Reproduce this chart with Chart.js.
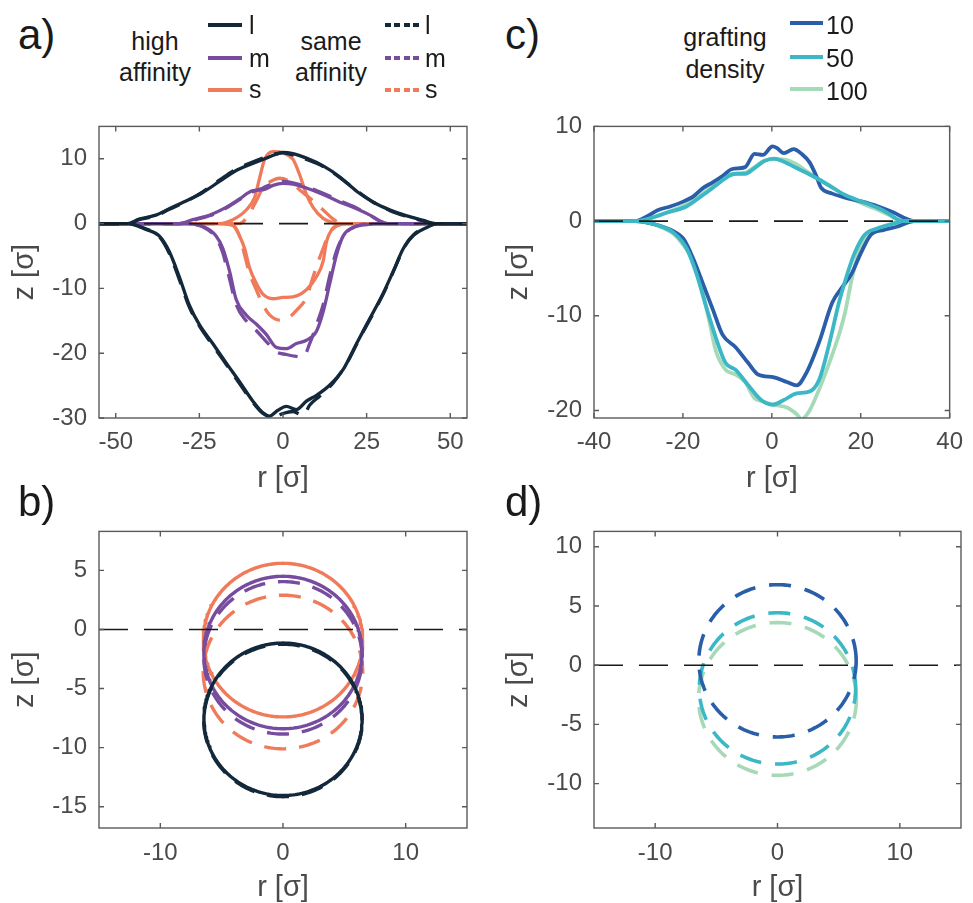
<!DOCTYPE html>
<html><head><meta charset="utf-8">
<script src="https://cdn.jsdelivr.net/npm/chart.js@4/dist/chart.umd.min.js"></script>
<style>
body{margin:0;width:973px;height:903px;overflow:hidden;background:#fff;position:relative;font-family:"Liberation Sans",Arial,Helvetica,sans-serif;}
canvas{position:absolute;}
.pl{position:absolute;font-size:42px;line-height:42px;color:#1a1a1a;white-space:nowrap;}
.lt{position:absolute;font-size:25px;line-height:31.7px;color:#1a1a1a;text-align:center;width:130px;white-space:nowrap;}
.ll{position:absolute;font-size:25px;line-height:30px;color:#1a1a1a;white-space:nowrap;}
.ls{position:absolute;height:4px;}
</style></head><body>

<canvas id="ca" width="490" height="396" style="left:0;top:100px"></canvas>
<canvas id="cc" width="483" height="396" style="left:490px;top:100px"></canvas>
<canvas id="cb" width="490" height="400" style="left:0;top:505px"></canvas>
<canvas id="cd" width="483" height="400" style="left:490px;top:505px"></canvas>

<div class="pl" style="left:18px;top:14px">a)</div>
<div class="pl" style="left:505px;top:14px">c)</div>
<div class="pl" style="left:18px;top:481px">b)</div>
<div class="pl" style="left:505px;top:481px">d)</div>

<div id="legend"></div>

<script>
// ---------------- categories / legend labels ----------------
const sizeLabels = ['l', 'm', 's'];
const affinityGroups = ['high\naffinity', 'same\naffinity'];
const densityLabels = ['10', '50', '100'];
const densityTitle = 'grafting\ndensity';

// ---------------- tick labels ----------------
const aXTicks = [-50, -25, 0, 25, 50];
const aYTicks = [-30, -20, -10, 0, 10];
const cXTicks = [-40, -20, 0, 20, 40];
const cYTicks = [-20, -10, 0, 10];
const bXTicks = [-10, 0, 10];
const bYTicks = [-15, -10, -5, 0, 5];
const dXTicks = [-10, 0, 10];
const dYTicks = [-10, -5, 0, 5, 10];

// ---------------- panel a: contours [r, z] ----------------
const lHighUpper = [[-55,0],[-46.5,0],[-43,0.7],[-38,1.3],[-34,2.3],[-29,3.5],[-24,4.8],[-19,6.5],[-14,8.2],[-10,9.1],[-6,9.9],[-2,10.7],[0,11],[3,10.8],[7,10.1],[12,8.9],[17,7.2],[22,5],[27,3.3],[32,2.1],[37,1.2],[42,0.5],[45.5,0],[55,0]];
const lSameUpper = [[-55,0],[-46.5,0],[-43,0.6],[-38,1.2],[-34,2.2],[-29,3.4],[-24,4.9],[-19,6.7],[-14,8.4],[-10,9.3],[-6,10.1],[-2,10.8],[0,10.9],[3,10.6],[7,9.9],[12,8.8],[17,7.1],[22,5.1],[27,3.3],[32,2.0],[37,1.1],[42,0.4],[45.5,0],[55,0]];
const lHighLower = [[-55,0],[-46.5,0],[-41,-0.9],[-37,-1.9],[-34,-4.3],[-31,-8.2],[-28,-12.6],[-25,-15.6],[-21,-18.5],[-17,-21.5],[-13,-24.4],[-9,-27.4],[-6,-29.2],[-4,-29.7],[-1.5,-28.8],[1,-28.2],[4,-28.7],[7,-27.4],[10,-26.5],[14,-24.9],[18,-22.5],[22,-18.5],[26,-14.6],[30,-10.7],[33,-7.3],[36,-3.8],[39,-1.8],[43,-0.6],[46,0],[55,0]];
const lSameLower = [[-55,0],[-46.5,0],[-41,-0.8],[-37,-2.0],[-34,-4.6],[-31,-8.6],[-28,-12.9],[-25,-15.8],[-21,-18.8],[-17,-21.7],[-13,-24.7],[-9,-27.6],[-6,-29.3],[-3,-29.9],[0,-29.3],[3,-29.0],[6,-29.6],[8,-28.0],[11,-26.6],[15,-24.6],[19,-21.6],[23,-17.6],[27,-13.8],[30.5,-10.3],[33.5,-6.8],[36.5,-3.4],[39.5,-1.5],[43,-0.5],[46,0],[55,0]];
const mHighUpper = [[-55,0],[-31,0],[-27,0.6],[-22,1.3],[-17,2.5],[-13,3.8],[-9,5.1],[-6,5.2],[-3,5.9],[0,6.2],[3,6.1],[7,5.5],[12,4.5],[17,3.3],[22,2.3],[26,1.3],[29,0.35],[31,0],[55,0]];
const mSameUpper = [[-55,0],[-31,0],[-27,0.5],[-22,1.2],[-17,2.4],[-13,3.7],[-9,4.9],[-6,5.5],[-3,6.2],[0,6.5],[3,6.3],[7,5.7],[12,4.7],[17,3.5],[22,2.4],[26,1.3],[29,0.4],[31.5,0],[55,0]];
const mHighLower = [[-55,0],[-30,0],[-24,-0.4],[-20,-1.9],[-18,-3.8],[-16,-7.3],[-14,-11.7],[-11,-14.1],[-8,-15.5],[-5,-17.1],[-2,-19.1],[1,-19.3],[4,-18.5],[7,-18],[10,-16.6],[12,-13.6],[14,-9.2],[16,-4.8],[18,-1.9],[21,-0.6],[25,-0.15],[29,0],[55,0]];
const mSameLower = [[-55,0],[-30,0],[-24,-0.5],[-20,-2.2],[-18,-4.5],[-16,-8.5],[-14,-12.5],[-11,-15],[-8,-16.5],[-5,-18.2],[-2,-19.8],[1,-20.2],[4,-20.5],[6,-20.6],[8,-18.5],[10,-15.6],[12,-12.5],[14,-8],[16,-4.2],[18.5,-1.6],[22,-0.4],[27,0],[55,0]];
const sHighUpper = [[-55,0],[-19,0],[-15,0.6],[-11,2.1],[-8.5,4],[-7,7],[-5.5,9.9],[-3,11.1],[0,10.9],[3,9.9],[5,7.5],[7,4.5],[9,2.5],[12,0.8],[15,0.1],[17,0],[55,0]];
const sSameUpper = [[-55,0],[-13,0],[-11,0.8],[-8,3.5],[-6,5.5],[-3,6.7],[-1,7],[2,6.5],[5,5.2],[9,3.5],[12,2.1],[15,0.7],[17,0.1],[18,0],[55,0]];
const sHighLower = [[-55,0],[-20,0],[-15,-0.3],[-13,-1.9],[-11.5,-3.8],[-10,-6.8],[-8,-9.2],[-6,-10.9],[-3,-11.6],[0,-11.4],[3,-11.3],[7,-10.2],[10,-8.2],[12,-5.8],[13,-2.8],[14.6,-0.9],[17,-0.15],[20,0],[55,0]];
const sSameLower = [[-55,0],[-17,0],[-15,-0.2],[-13,-1.9],[-11.5,-4.8],[-10,-7.7],[-8,-10.2],[-6,-12.5],[-4,-14.1],[-1,-14.9],[2,-14.4],[4,-13.4],[7,-11.4],[9,-8.2],[12,-3.8],[14,-1.4],[16,-0.4],[19,0],[55,0]];

// ---------------- panel c: contours [r, z] ----------------
const g10Upper = [[-40,0],[-30.7,0],[-27.8,0.57],[-25.7,1.14],[-22.7,1.57],[-19.8,2.08],[-17.7,2.58],[-15.5,3.48],[-13.3,4.09],[-11.1,4.76],[-8.9,5.5],[-6,5.7],[-3.9,7.1],[-2,7.0],[0.15,7.9],[1.2,7.7],[2.7,7.17],[4.9,7.6],[6.7,7.1],[8.5,6.2],[10,4.76],[11,3.58],[13.6,2.9],[16.5,2.48],[20.1,2.08],[23.8,1.57],[27.4,0.9],[30.3,0.23],[32.1,0],[40,0]];
const g50Upper = [[-40,0],[-30.7,0],[-27.1,0.33],[-23.5,0.9],[-19.1,1.57],[-15.5,2.75],[-12.6,3.75],[-9.7,4.76],[-8,5.0],[-6,5.0],[-3.9,5.6],[-1.7,6.33],[0.5,6.6],[2.7,6.26],[5.6,5.6],[9.2,4.76],[12.9,3.75],[16.5,2.75],[20.1,2.08],[23.8,1.4],[25.9,0.9],[28.1,0.23],[29.6,0],[40,0]];
const g100Upper = [[-40,0],[-30,0],[-26,0.5],[-22,1.2],[-19,1.8],[-15.5,2.9],[-12.6,3.9],[-9.7,4.9],[-6,5.1],[-3.9,5.7],[-1.7,6.4],[0.5,6.55],[3,6.5],[5.5,6.0],[8,5.2],[10,4.6],[12.9,3.8],[16.5,2.7],[20.1,1.9],[23.8,1.2],[26.5,0.6],[29,0],[40,0]];
const g10Lower = [[-40,0],[-30.7,0],[-26.4,-0.33],[-22.7,-0.94],[-19.8,-1.94],[-17.7,-3.95],[-15.5,-6.6],[-13.3,-9.3],[-11.1,-12],[-8.2,-13.3],[-5.3,-15],[-3.1,-16.2],[0.5,-16.5],[3.4,-17],[5.6,-17.35],[7.8,-16],[10.7,-12.7],[13.6,-8.6],[15.8,-7.0],[17.9,-5.6],[20.1,-3.3],[22.3,-1.44],[25.2,-0.94],[28.1,-0.6],[31,-0.1],[32.1,0],[40,0]];
const g50Lower = [[-40,0],[-30.7,0],[-25.7,-0.44],[-22,-1.27],[-19.1,-2.95],[-16.9,-5.63],[-14.8,-9.0],[-12.6,-12.3],[-10.4,-15.0],[-8.2,-15.7],[-5.3,-17.35],[-2.4,-18.9],[0.15,-19.4],[2.7,-18.9],[5.6,-18.2],[8.5,-18],[10.7,-16.7],[12.9,-13],[15.1,-8.6],[16.5,-6.3],[18.7,-3.3],[20.9,-1.44],[23.8,-0.77],[27.4,-0.27],[29.6,0],[40,0]];
const g100Lower = [[-40,0],[-30.7,0],[-25.7,-0.5],[-22,-1.4],[-19.8,-2.6],[-16.9,-5.0],[-15.5,-7.6],[-14,-10.7],[-12.6,-13.7],[-10.4,-15.7],[-8.2,-16.2],[-6,-17],[-3.9,-18.7],[-2.4,-19],[0.5,-19.4],[3.4,-19.7],[5.6,-20.4],[6.7,-20.9],[8.5,-20.0],[10.7,-17.7],[12.9,-15],[15.1,-12],[16.5,-9.6],[17.9,-6.3],[19.5,-3.3],[21.5,-1.44],[24,-0.77],[27,-0.3],[29.6,0],[40,0]];

// ---------------- panel b / d: fitted circles (centre z, radius), centred at r = 0 ----------------
const bHighCenters = [-7.6, -1.95, -0.9];   // l, m, s
const bHighRadii   = [6.45, 6.45, 6.5];
const bSameCenters = [-7.7, -2.4, -3.6];
const bSameRadii   = [6.45, 6.45, 6.5];
const dCenters = [0.37, -1.96, -2.85];      // 10, 50, 100
const dRadii   = [6.43, 6.39, 6.45];

// ---------------- styles ----------------
const FONT = '"Liberation Sans", Arial, Helvetica, sans-serif';
const TICK_COLOR = '#4a4a4a';
const AXIS_COLOR = '#5a5a5a';
const sizeColors = ['#13283a', '#774c9e', '#ef7b5b'];
const densityColors = ['#2a5ea8', '#3bb7c6', '#a6d9b8'];
const DASH = [20, 12];
const ZERO_DASH = [29, 16];

function lineDs(points, color, width, dash, order, smooth) {
  return {
    data: points.map(p => ({x: p[0], y: p[1]})),
    borderColor: color, backgroundColor: color,
    borderWidth: width, borderDash: dash || [],
    pointRadius: 0, showLine: true, fill: false,
    cubicInterpolationMode: smooth ? 'monotone' : 'default', tension: 0,
    borderCapStyle: 'butt', borderJoinStyle: 'round', order: order
  };
}
function circlePts(zc, R) {
  const pts = [];
  for (let i = 0; i <= 240; i++) {
    const t = i / 240 * 2 * Math.PI;
    pts.push([R * Math.cos(t), zc + R * Math.sin(t)]);
  }
  return pts;
}

const boxPlugin = {
  id: 'box',
  afterDatasetsDraw(chart) {
    const {ctx, chartArea: {left, right, top, bottom}, scales: {x, y}} = chart;
    ctx.save();
    ctx.strokeStyle = AXIS_COLOR;
    ctx.lineWidth = 1.4;
    ctx.setLineDash([]);
    ctx.strokeRect(left, top, right - left, bottom - top);
    ctx.beginPath();
    x.ticks.forEach(t => {
      const p = x.getPixelForValue(t.value);
      ctx.moveTo(p, bottom); ctx.lineTo(p, bottom - 5);
      ctx.moveTo(p, top); ctx.lineTo(p, top + 5);
    });
    y.ticks.forEach(t => {
      const p = y.getPixelForValue(t.value);
      ctx.moveTo(left, p); ctx.lineTo(left + 5, p);
      ctx.moveTo(right, p); ctx.lineTo(right - 5, p);
    });
    ctx.stroke();
    ctx.restore();
  }
};

function makeChart(id, o) {
  const zero = lineDs([[o.xMin, 0], [o.xMax, 0]], '#1a1a1a', 1.6, ZERO_DASH, 0, false);
  return new Chart(document.getElementById(id), {
    type: 'scatter',
    data: {datasets: [zero].concat(o.datasets)},
    options: {
      responsive: false, animation: false, devicePixelRatio: 1, events: [],
      layout: {padding: {top: o.padTop, right: o.padRight, left: 0, bottom: 0}},
      plugins: {legend: {display: false}, tooltip: {enabled: false}},
      scales: {
        x: {
          type: 'linear', min: o.xMin, max: o.xMax,
          afterBuildTicks: ax => { ax.ticks = o.xTicks.map(v => ({value: v})); },
          afterFit: s => { s.height = o.xH; },
          grid: {display: false, drawTicks: false}, border: {display: false},
          ticks: {color: TICK_COLOR, font: {family: FONT, size: 24}, padding: o.xPad, maxRotation: 0, autoSkip: false},
          title: {display: true, text: 'r [σ]', color: TICK_COLOR, font: {family: FONT, size: 29}, padding: {top: 0, bottom: 0}}
        },
        y: {
          type: 'linear', min: o.yMin, max: o.yMax,
          afterBuildTicks: ax => { ax.ticks = o.yTicks.map(v => ({value: v})); },
          afterFit: s => { s.width = o.yW; },
          grid: {display: false, drawTicks: false}, border: {display: false},
          ticks: {color: TICK_COLOR, font: {family: FONT, size: 24}, padding: 12, autoSkip: false},
          title: {display: true, text: 'z [σ]', color: TICK_COLOR, font: {family: FONT, size: 29}, padding: {top: o.yTitlePad, bottom: 0}}
        }
      }
    },
    plugins: [boxPlugin]
  });
}

// ---------------- panel a ----------------
const aHigh = [[lHighUpper, lHighLower], [mHighUpper, mHighLower], [sHighUpper, sHighLower]];
const aSame = [[lSameUpper, lSameLower], [mSameUpper, mSameLower], [sSameUpper, sSameLower]];
const aSets = [];
[2, 1, 0].forEach((k, i) => {
  aHigh[k].forEach(br => aSets.push(lineDs(br, sizeColors[k], 3.3, [], 10 - 2 * i, true)));
  aSame[k].forEach(br => aSets.push(lineDs(br, sizeColors[k], 3.3, DASH, 9 - 2 * i, true)));
});
makeChart('ca', {xMin: -55, xMax: 55, yMin: -30, yMax: 15, xTicks: aXTicks, yTicks: aYTicks,
  padTop: 12, padRight: 23, yW: 99, xH: 78, xPad: 10, yTitlePad: 7.5, datasets: aSets});

// ---------------- panel c ----------------
const cBranches = [[g10Upper, g10Lower], [g50Upper, g50Lower], [g100Upper, g100Lower]];
const cSets = [];
[2, 0, 1].forEach((k, i) => {
  cBranches[k].forEach(br => cSets.push(lineDs(br, densityColors[k], 3.8, [], 10 - i, true)));
});
makeChart('cc', {xMin: -40, xMax: 40, yMin: -20.8, yMax: 10, xTicks: cXTicks, yTicks: cYTicks,
  padTop: 12, padRight: 12, yW: 104, xH: 78, xPad: 10, yTitlePad: 11.7, datasets: cSets});

// ---------------- panel b ----------------
const bSets = [];
[2, 1, 0].forEach((k, i) => {
  bSets.push(lineDs(circlePts(bHighCenters[k], bHighRadii[k]), sizeColors[k], 3.4, [], 10 - 2 * i, false));
  bSets.push(lineDs(circlePts(bSameCenters[k], bSameRadii[k]), sizeColors[k], 3.4, [22, 13], 9 - 2 * i, false));
});
makeChart('cb', {xMin: -15, xMax: 15, yMin: -16.8, yMax: 8.3, xTicks: bXTicks, yTicks: bYTicks,
  padTop: 17, padRight: 23, yW: 99, xH: 77, xPad: 11, yTitlePad: 7.5, datasets: bSets});

// ---------------- panel d ----------------
const dSets = [];
[2, 1, 0].forEach((k, i) => {
  dSets.push(lineDs(circlePts(dCenters[k], dRadii[k]), densityColors[k], 3.6, [22, 14], 10 - i, false));
});
makeChart('cd', {xMin: -15, xMax: 15, yMin: -13.75, yMax: 11.3, xTicks: dXTicks, yTicks: dYTicks,
  padTop: 17, padRight: 12, yW: 104, xH: 77, xPad: 11, yTitlePad: 11.7, datasets: dSets});

// ---------------- legends (HTML) ----------------
const lg = document.getElementById('legend');
function addDiv(cls, style, html) {
  const d = document.createElement('div');
  d.className = cls; d.style.cssText = style; d.innerHTML = html; lg.appendChild(d);
}
addDiv('lt', 'left:90px;top:25.5px', affinityGroups[0].replace('\n', '<br>'));
addDiv('lt', 'left:266px;top:25.5px', affinityGroups[1].replace('\n', '<br>'));
addDiv('lt', 'left:660px;top:22px', densityTitle.replace('\n', '<br>'));
const legendY = [25, 57.5, 90];
const legendTextTop = [9.6, 43.3, 74.3];
sizeLabels.forEach((lab, k) => {
  addDiv('ls', `left:208px;top:${legendY[k] - 2}px;width:34px;background:${sizeColors[k]}`, '');
  addDiv('ll', `left:249px;top:${legendTextTop[k]}px`, lab);
  addDiv('ls', `left:385px;top:${legendY[k] - 2}px;width:35px;background:repeating-linear-gradient(to right, ${sizeColors[k]} 0 6px, transparent 6px 9.5px)`, '');
  addDiv('ll', `left:425px;top:${legendTextTop[k]}px`, lab);
});
const dLegendY = [23, 57, 89];
const dLegendTextTop = [9.6, 43.3, 76.3];
densityLabels.forEach((lab, k) => {
  addDiv('ls', `left:790px;top:${dLegendY[k] - 2}px;width:33px;background:${densityColors[k]}`, '');
  addDiv('ll', `left:826px;top:${dLegendTextTop[k]}px`, lab);
});
</script>
</body></html>
